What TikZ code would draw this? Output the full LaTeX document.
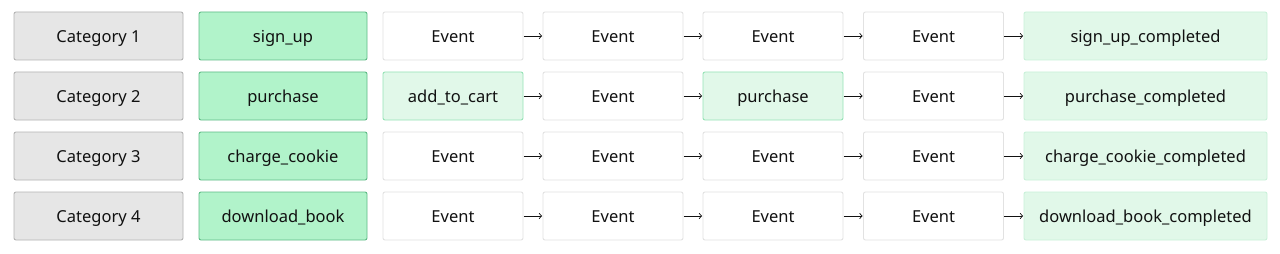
\documentclass[tikz,border=0pt]{standalone}
\usepackage{fontspec}
\setmainfont{Noto Sans}
\usetikzlibrary{arrows.meta}
\definecolor{catfill}{HTML}{E6E6E6}
\definecolor{catdraw}{HTML}{B4B4B4}
\definecolor{keyfill}{HTML}{B1F3CA}
\definecolor{keydraw}{HTML}{5EBB86}
\definecolor{litefill}{HTML}{E1F8E9}
\definecolor{litedraw}{HTML}{96E3B6}
\definecolor{donedraw}{HTML}{C9F1D9}
\definecolor{evdraw}{HTML}{E2E2E2}
\definecolor{txt}{HTML}{111111}
\tikzset{
  box/.style={rectangle, rounded corners=2pt, line width=0.9pt, minimum height=48pt, inner sep=0pt, text=txt, text height=13.5pt, text depth=0.5pt, font=\fontsize{16.5}{18}\selectfont},
  catbox/.style={box, fill=catfill, draw=catdraw, minimum width=169pt},
  keybox/.style={box, fill=keyfill, draw=keydraw, minimum width=168pt},
  evbox/.style={box, fill=white, draw=evdraw, minimum width=140pt},
  hitbox/.style={box, fill=litefill, draw=litedraw, minimum width=140pt},
  donebox/.style={box, fill=litefill, draw=donedraw, minimum width=243pt},
  flow/.style={-{Straight Barb[length=2.5pt,width=5.5pt]}, line width=0.7pt, txt, shorten >=0.5pt, shorten <=0.5pt}
}
\begin{document}
\begin{tikzpicture}[x=1pt,y=-1pt]
\useasboundingbox[fill=white] (0,0) rectangle (1280,254);
\foreach \r/\cat/\key/\a/\c/\done [count=\i] in {
  36/Category 1/sign\_up/Event/Event/sign\_up\_completed,
  96/Category 2/purchase/add\_to\_cart/purchase/purchase\_completed,
  156/Category 3/charge\_cookie/Event/Event/charge\_cookie\_completed,
  216/Category 4/download\_book/Event/Event/download\_book\_completed}{
  \node[catbox] (cat\i) at (98.5,\r) {\cat};
  \node[keybox] (key\i) at (283,\r) {\key};
  \ifnum\i=2
    \node[hitbox] (e\i a) at (453,\r) {\a};
    \node[hitbox] (e\i c) at (773,\r) {\c};
  \else
    \node[evbox] (e\i a) at (453,\r) {\a};
    \node[evbox] (e\i c) at (773,\r) {\c};
  \fi
  \node[evbox] (e\i b) at (613,\r) {Event};
  \node[evbox] (e\i d) at (933.5,\r) {Event};
  \node[donebox] (done\i) at (1145.5,\r) {\done};
  \draw[flow] (e\i a) -- (e\i b);
  \draw[flow] (e\i b) -- (e\i c);
  \draw[flow] (e\i c) -- (e\i d);
  \draw[flow] (e\i d) -- (done\i);
}
\end{tikzpicture}
\end{document}
